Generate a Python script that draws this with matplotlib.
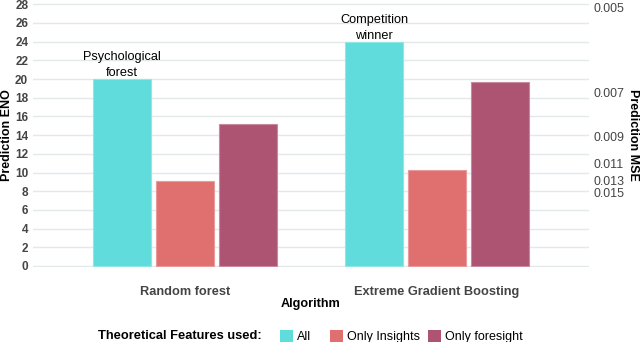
import matplotlib
matplotlib.use("Agg")
import matplotlib.pyplot as plt
from matplotlib.patches import Patch
import numpy as np

plt.rcParams['font.family'] = ['Liberation Sans', 'DejaVu Sans']

# ---- data ----
algorithms = ["Random forest", "Extreme Gradient Boosting"]
series_names = ["All", "Only Insights", "Only foresight"]
eno_all = [20.03, 24.0]
eno_insights = [9.09, 10.27]
eno_foresight = [15.15, 19.7]
eno_ticks = list(range(0, 29, 2))
mse_tick_labels = ["0.005", "0.007", "0.009", "0.011", "0.013", "0.015"]
mse_tick_pos_eno = [27.67, 18.54, 13.9, 10.98, 9.2, 7.84]
annotations = ["Psychological\nforest", "Competition\nwinner"]

colors = ["#5fdcdb", "#e06f6f", "#ad5473"]
edges = ["#8ee8e6", "#ea9a9a", "#c98aa0"]

fig = plt.figure(figsize=(6.4, 3.42), dpi=100)
ax = fig.add_axes([33/640, 1-267.4/342, (589-33)/640, (267.4-2.9)/342])

x = np.arange(len(algorithms))
offsets = [-0.25, 0.0, 0.25]
width = 0.232
series = [eno_all, eno_insights, eno_foresight]
bars = []
for vals, off, c, e in zip(series, offsets, colors, edges):
    b = ax.bar(x + off, vals, width=width, color=c, edgecolor=e, linewidth=0.8, zorder=3)
    bars.append(b)

ax.set_ylim(-0.15, 28.15)
ax.set_xlim(-0.603, 1.603)
ax.set_yticks(eno_ticks)
ax.set_yticklabels([str(t) for t in eno_ticks], fontsize=8.5, fontweight='bold', color='#444444')
ax.set_xticks(x)
ax.set_xticklabels(algorithms, fontsize=9.2, fontweight='bold', color='#444444')
ax.tick_params(axis='y', length=0, pad=3.5)
ax.tick_params(axis='x', length=0, pad=13.5)
ax.grid(axis='y', color='#e3e8eb', linewidth=1.0, zorder=0)
for s in ax.spines.values():
    s.set_visible(False)
fig.text(7.5/640, 1-135/342, "Prediction ENO", rotation=90, ha='center', va='center',
         fontsize=9, fontweight='bold', color='black')

# annotations over "All" bars
for rect, txt in zip(bars[0], annotations):
    ax.annotate(txt, (rect.get_x() + rect.get_width()/2, rect.get_height()),
                xytext=(0, -0.5), textcoords='offset points', ha='center', va='bottom',
                fontsize=9.2, color='black', linespacing=1.45, zorder=4)

# right axis: Prediction MSE
ax2 = ax.twinx()
ax2.set_ylim(ax.get_ylim())
ax2.set_yticks(mse_tick_pos_eno)
ax2.set_yticklabels(mse_tick_labels, fontsize=8.9, color='#444444')
ax2.tick_params(axis='y', length=0, pad=3)
for s in ax2.spines.values():
    s.set_visible(False)
fig.text(633.5/640, 1-135/342, "Prediction MSE", rotation=270, ha='center', va='center',
         fontsize=9, fontweight='bold', color='black')

# x label
fig.text(311/640, 1-304/342, "Algorithm", ha='center', va='center',
         fontsize=9.1, fontweight='bold', color='black')

# legend
fig.text(262/640, 1-336/342, "Theoretical Features used:", ha='right', va='center',
         fontsize=9.3, fontweight='bold', color='black')
legend_x = [280, 330, 428]
for name, c, lx in zip(series_names, colors, legend_x):
    fig.legend(handles=[Patch(facecolor=c, edgecolor='none')], labels=[name],
               loc='center left', bbox_to_anchor=(lx/640, 1-336.5/342),
               frameon=False, fontsize=9, handlelength=1.05, handleheight=1.05,
               handletextpad=0.3, borderpad=0.0, borderaxespad=0.0)

fig.savefig("out.png", dpi=100)
